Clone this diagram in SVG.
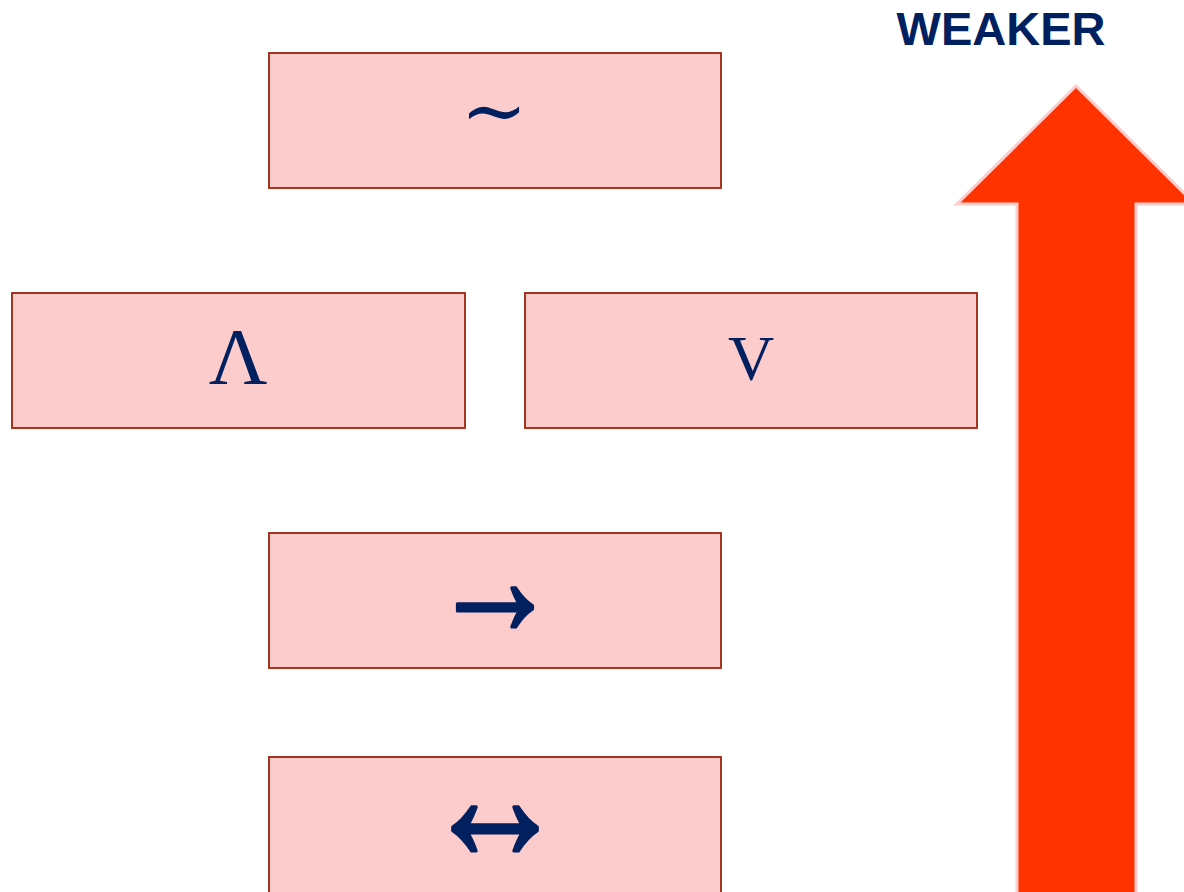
<svg xmlns="http://www.w3.org/2000/svg" width="1184" height="892" viewBox="0 0 1184 892">
<style>
.box{fill:#FCCBCB;stroke:#A5351E;stroke-width:2}
.sym{fill:#002060;font-family:"Liberation Serif","DejaVu Serif",serif;text-anchor:middle}
.arr{stroke:#002060;stroke-width:2.5;stroke-linejoin:round}
</style>
<rect width="1184" height="892" fill="#fff"/>
<g id="arrow">
<polygon points="1076,86 1195,204 1136,204 1136,900 1017,900 1017,204 957,204" fill="#FF3300" stroke="#FFCCCC" stroke-width="3"/>
</g>
<g id="label">
<text x="1001" y="45" font-family="Liberation Sans, Arial, sans-serif" font-weight="bold" font-size="47" fill="#002060" text-anchor="middle">WEAKER</text>
</g>
<g id="not">
<rect class="box" x="269" y="53" width="452" height="135"/>
<text class="sym" x="494" y="138" font-size="80">∼</text>
</g>
<g id="and">
<rect class="box" x="12" y="293" width="453" height="135"/>
<text class="sym" x="238" y="384" font-size="81">Λ</text>
</g>
<g id="or">
<rect class="box" x="525" y="293" width="452" height="135"/>
<text class="sym" x="751" y="380" font-size="64">V</text>
</g>
<g id="implies">
<rect class="box" x="269" y="533" width="452" height="135"/>
<text class="sym arr" x="495" y="628" font-size="128" transform="translate(0,606) scale(1,1.3) translate(0,-606)">→</text>
</g>
<g id="iff">
<rect class="box" x="269" y="757" width="452" height="140"/>
<text class="sym arr" x="495" y="853" font-size="144" transform="translate(0,829) scale(1,1.3) translate(0,-829)">↔</text>
</g>
<g id="connectors"/>
</svg>
